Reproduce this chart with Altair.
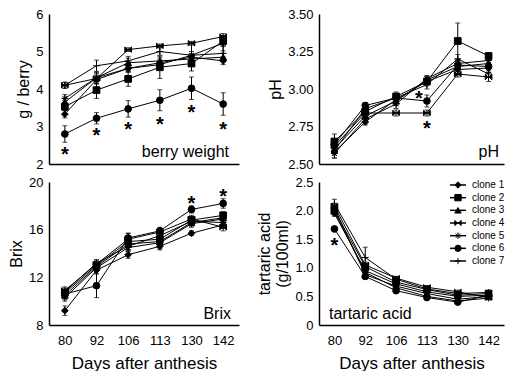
import altair as alt
import pandas as pd

days = ["80", "92", "106", "113", "130", "142"]
clones = ["clone 1", "clone 2", "clone 3", "clone 4", "clone 5", "clone 6", "clone 7"]

# berry weight (g / berry)
berry = {
    "clone 1": [3.33, 4.25, 4.55, 4.70, 4.85, 4.75],
    "clone 2": [3.53, 3.97, 4.27, 4.58, 4.68, 5.28],
    "clone 3": [3.65, 4.30, 4.70, 4.75, 4.80, 4.85],
    "clone 4": [4.10, 4.28, 5.05, 5.15, 5.22, 5.40],
    "clone 5": [3.75, 4.30, 4.55, 4.65, 4.90, 5.22],
    "clone 6": [2.80, 3.22, 3.47, 3.70, 4.02, 3.60],
    "clone 7": [4.10, 4.62, 4.75, 5.00, 4.90, 4.95],
}
berry_sd = {
    "clone 1": [0.10, 0.10, 0.10, 0.10, 0.10, 0.10],
    "clone 2": [0.10, 0.22, 0.20, 0.30, 0.20, 0.15],
    "clone 3": [0.10, 0.15, 0.12, 0.10, 0.10, 0.10],
    "clone 4": [0.08, 0.15, 0.05, 0.05, 0.05, 0.08],
    "clone 5": [0.10, 0.10, 0.10, 0.10, 0.10, 0.20],
    "clone 6": [0.22, 0.15, 0.22, 0.28, 0.30, 0.30],
    "clone 7": [0.08, 0.15, 0.12, 0.10, 0.30, 0.20],
}
berry_stars_day = ["80", "92", "106", "113", "130", "142"]
berry_stars_y = [2.38, 2.87, 3.05, 3.18, 3.50, 3.05]
berry_stars_dx = [0, 0, 0, 0, 0, 0]

# pH
ph = {
    "clone 1": [2.58, 2.78, 2.93, 3.05, 3.13, 3.14],
    "clone 2": [2.65, 2.85, 2.95, 3.05, 3.32, 3.22],
    "clone 3": [2.60, 2.82, 2.92, 3.06, 3.15, 3.17],
    "clone 4": [2.62, 2.84, 2.84, 2.84, 3.10, 3.08],
    "clone 5": [2.57, 2.80, 2.90, 3.07, 3.17, 3.19],
    "clone 6": [2.63, 2.89, 2.94, 2.92, 3.16, 3.15],
    "clone 7": [2.59, 2.87, 2.94, 3.03, 3.20, 3.10],
}
ph_sd = {
    "clone 1": [0.04, 0.02, 0.02, 0.02, 0.03, 0.03],
    "clone 2": [0.05, 0.03, 0.03, 0.03, 0.12, 0.02],
    "clone 3": [0.03, 0.02, 0.03, 0.02, 0.03, 0.02],
    "clone 4": [0.03, 0.02, 0.02, 0.02, 0.02, 0.03],
    "clone 5": [0.03, 0.02, 0.03, 0.02, 0.03, 0.02],
    "clone 6": [0.03, 0.02, 0.03, 0.04, 0.03, 0.02],
    "clone 7": [0.03, 0.02, 0.03, 0.03, 0.03, 0.02],
}
ph_stars_day = ["113", "113"]
ph_stars_y = [2.965, 2.77]
ph_stars_dx = [-8, 0]

# Brix
brix = {
    "clone 1": [9.2, 12.6, 13.9, 14.6, 15.7, 16.4],
    "clone 2": [10.7, 13.0, 15.0, 15.2, 16.8, 17.2],
    "clone 3": [10.5, 12.9, 14.8, 15.0, 16.6, 17.0],
    "clone 4": [10.9, 13.1, 15.2, 15.8, 16.9, 16.2],
    "clone 5": [10.3, 12.8, 14.5, 14.9, 16.5, 16.9],
    "clone 6": [10.6, 11.3, 15.3, 15.9, 17.7, 18.2],
    "clone 7": [10.8, 13.2, 14.6, 15.5, 16.7, 16.6],
}
brix_sd = {
    "clone 1": [0.4, 0.3, 0.3, 0.3, 0.2, 0.3],
    "clone 2": [0.3, 0.3, 0.7, 0.3, 0.3, 0.3],
    "clone 3": [0.3, 0.4, 0.3, 0.3, 0.3, 0.3],
    "clone 4": [0.3, 0.3, 0.3, 0.2, 0.3, 0.3],
    "clone 5": [0.3, 0.3, 0.3, 0.5, 0.3, 0.3],
    "clone 6": [0.3, 1.0, 0.4, 0.3, 0.3, 0.4],
    "clone 7": [0.3, 0.3, 0.3, 0.3, 0.3, 0.3],
}
brix_stars_day = ["130", "142"]
brix_stars_y = [18.6, 19.2]
brix_stars_dx = [0, 0]

# tartaric acid (g/100ml)
tart = {
    "clone 1": [1.95, 0.95, 0.72, 0.58, 0.50, 0.52],
    "clone 2": [2.00, 1.02, 0.75, 0.62, 0.52, 0.55],
    "clone 3": [2.05, 0.88, 0.68, 0.55, 0.45, 0.50],
    "clone 4": [2.08, 1.05, 0.82, 0.66, 0.58, 0.48],
    "clone 5": [1.98, 0.92, 0.65, 0.50, 0.42, 0.47],
    "clone 6": [1.68, 0.85, 0.60, 0.48, 0.40, 0.52],
    "clone 7": [2.12, 1.18, 0.80, 0.63, 0.55, 0.57],
}
tart_sd = {
    "clone 1": [0.05, 0.04, 0.03, 0.03, 0.03, 0.03],
    "clone 2": [0.05, 0.05, 0.03, 0.03, 0.03, 0.03],
    "clone 3": [0.05, 0.04, 0.03, 0.03, 0.03, 0.03],
    "clone 4": [0.05, 0.05, 0.03, 0.03, 0.03, 0.03],
    "clone 5": [0.05, 0.05, 0.03, 0.03, 0.03, 0.03],
    "clone 6": [0.03, 0.04, 0.03, 0.03, 0.03, 0.03],
    "clone 7": [0.08, 0.18, 0.04, 0.04, 0.03, 0.03],
}
tart_stars_day = ["80"]
tart_stars_y = [1.47]
tart_stars_dx = [0]

SHAPES = [
    "diamond",
    "square",
    "triangle-up",
    "M-1,-0.8L-0.15,0L-1,0.8Z M1,-0.8L0.15,0L1,0.8Z M-1,0L1,0",
    "M0,-1V1M-1,0H1M-0.7,-0.7L0.7,0.7M-0.7,0.7L0.7,-0.7",
    "circle",
    "M0,-1V1M-1,0H1",
]
STROKES = [1, 1, 1, 1, 2, 1, 1.5]

FONT = "Liberation Sans"
shape_scale = alt.Scale(domain=clones, range=SHAPES)
sw_scale = alt.Scale(domain=clones, range=STROKES)


def long_df(vals, sds):
    rows = []
    for c in clones:
        for d, v, s in zip(days, vals[c], sds[c]):
            rows.append({"clone": c, "day": d, "v": v, "lo": v - s, "hi": v + s})
    return pd.DataFrame(rows)


def panel(vals, sds, star_days, star_ys, star_dx, domain, ticks, title, fmt, label,
          lx, ly, lalign, bottom, width, height, label_expr=None, legend=False):
    df = long_df(vals, sds)
    xaxis = alt.Axis(labels=bottom, title="Days after anthesis" if bottom else None,
                     labelAngle=0, labelPadding=9, titlePadding=8, titleFontSize=17)
    x = alt.X("day:O", sort=days, scale=alt.Scale(type="point", padding=0.5), axis=xaxis)
    ax_kw = dict(values=ticks, title=title, format=fmt, labelPadding=6, titlePadding=4)
    if label_expr:
        ax_kw["labelExpr"] = label_expr
    yaxis = alt.Axis(**ax_kw)
    ysc = alt.Scale(domain=domain, nice=False, zero=False)

    def Y(f):
        return alt.Y(f, scale=ysc, axis=yaxis)

    base = alt.Chart(df)
    err = base.mark_rule(color="black", strokeWidth=1).encode(x=x, y=Y("lo:Q"), y2="hi:Q")
    cap_lo = base.mark_tick(color="black", size=5, thickness=1).encode(x=x, y=Y("lo:Q"))
    cap_hi = base.mark_tick(color="black", size=5, thickness=1).encode(x=x, y=Y("hi:Q"))
    line = base.mark_line(color="black", strokeWidth=1).encode(x=x, y=Y("v:Q"), detail="clone:N")
    pts = base.mark_point(filled=True, fill="black", stroke="black", opacity=1, size=45).encode(
        x=x, y=Y("v:Q"),
        shape=alt.Shape("clone:N", scale=shape_scale, legend=None),
        strokeWidth=alt.StrokeWidth("clone:N", scale=sw_scale, legend=None),
    )
    layers = [err, cap_lo, cap_hi, line, pts]
    sdf = pd.DataFrame({"day": star_days, "v": star_ys, "dx": star_dx})
    for dxv in sorted(set(star_dx)):
        sub = sdf[sdf["dx"] == dxv]
        layers.append(alt.Chart(sub).mark_text(
            text="*", fontSize=20, fontWeight="bold", font=FONT,
            baseline="alphabetic", dy=11, dx=dxv, color="black").encode(x=x, y=Y("v:Q")))
    lab = alt.Chart(pd.DataFrame({"t": [label]})).mark_text(
        align=lalign, baseline="middle", fontSize=16, font=FONT, color="black").encode(
        x=alt.value(lx), y=alt.value(ly), text="t:N")
    layers.append(lab)
    main = alt.layer(*layers)
    if legend:
        ldf = pd.DataFrame({"clone": clones})
        ly_enc = alt.Y("clone:N", sort=clones,
                       scale=alt.Scale(type="point", range=[3, 79], padding=0), axis=None)
        lb = alt.Chart(ldf)
        lrule = lb.mark_rule(color="black", strokeWidth=1.5).encode(
            x=alt.value(131), x2=alt.value(147), y=ly_enc)
        lpts = lb.mark_point(filled=True, fill="black", stroke="black", opacity=1, size=40).encode(
            x=alt.value(139), y=ly_enc,
            shape=alt.Shape("clone:N", scale=shape_scale, legend=None),
            strokeWidth=alt.StrokeWidth("clone:N", scale=sw_scale, legend=None))
        ltxt = lb.mark_text(align="left", baseline="middle", fontSize=10, font=FONT,
                            color="black").encode(x=alt.value(153), y=ly_enc, text="clone:N")
        leg = alt.layer(lrule, lpts, ltxt)
        main = alt.layer(main, leg).resolve_scale(y="independent")
    return main.properties(width=width, height=height)


tl = panel(berry, berry_sd, berry_stars_day, berry_stars_y, berry_stars_dx, [2, 6], [2, 3, 4, 5, 6],
           "g / berry", "d", "berry weight", 180, 138, "right", False, 190, 150)
tr = panel(ph, ph_sd, ph_stars_day, ph_stars_y, ph_stars_dx, [2.5, 3.5], [2.5, 2.75, 3.0, 3.25, 3.5],
           "pH", ".2f", "pH", 180, 138, "right", False, 185, 150)
bl = panel(brix, brix_sd, brix_stars_day, brix_stars_y, brix_stars_dx, [8, 20], [8, 12, 16, 20],
           "Brix", "d", "Brix", 182, 132, "right", True, 190, 143)
br = panel(tart, tart_sd, tart_stars_day, tart_stars_y, tart_stars_dx, [0, 2.5], [0, 0.5, 1.0, 1.5, 2.0, 2.5],
           ["tartaric acid", "(g/100ml)"], ".1f", "tartaric acid", 10, 132, "left", True, 185, 143,
           label_expr="datum.value == 0 ? '0' : format(datum.value, '.1f')", legend=True)

chart = alt.concat(tl, tr, bl, br, columns=2, spacing={"row": 5, "column": 17}).properties(
    padding=0
).configure_view(stroke=None).configure_axis(
    grid=False, domainColor="black", domainWidth=1.5, ticks=False,
    labelFont=FONT, titleFont=FONT, labelColor="black", titleColor="black",
    labelFontSize=13, titleFontSize=16, titleFontWeight="normal",
)

chart.save("out.html", embed_options={"renderer": "svg", "actions": False})
